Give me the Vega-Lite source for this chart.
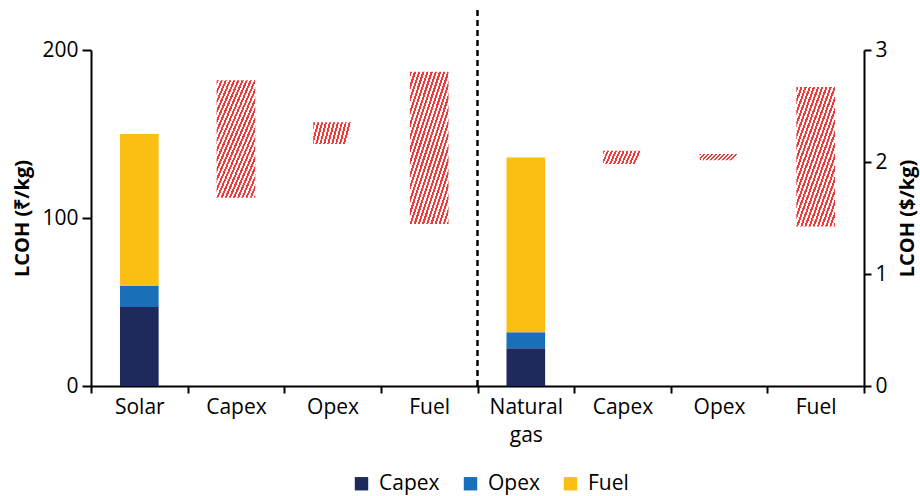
{
  "$schema": "https://vega.github.io/schema/vega-lite/v6.json",
  "width": 773,
  "height": 336,
  "autosize": "none",
  "padding": {"left": 91, "top": 50, "right": 56, "bottom": 110},
  "background": "white",
  "config": {
    "view": {"stroke": null},
    "font": "Open Sans",
    "axis": {
      "grid": false,
      "domainColor": "black",
      "domainWidth": 2,
      "tickColor": "black",
      "tickWidth": 2,
      "tickSize": 7,
      "labelColor": "black",
      "labelFont": "Open Sans",
      "labelFontSize": 21,
      "titleFont": "Open Sans",
      "titleFontSize": 20,
      "titleFontWeight": "bold",
      "titleColor": "black"
    },
    "legend": {"labelFont": "Open Sans", "labelFontSize": 21, "labelColor": "black"}
  },
  "datasets": {
    "stack": [
      {"cat": "Solar", "comp": "Capex", "ord": 1, "value": 47},
      {"cat": "Solar", "comp": "Opex", "ord": 2, "value": 12.5},
      {"cat": "Solar", "comp": "Fuel", "ord": 3, "value": 90.5},
      {"cat": "Natural gas", "comp": "Capex", "ord": 1, "value": 22.5},
      {"cat": "Natural gas", "comp": "Opex", "ord": 2, "value": 9.5},
      {"cat": "Natural gas", "comp": "Fuel", "ord": 3, "value": 104}
    ],
    "ranges": [
      {"cat": "Capex_1", "low": 112, "high": 182},
      {"cat": "Opex_1", "low": 144, "high": 157},
      {"cat": "Fuel_1", "low": 96.5, "high": 187},
      {"cat": "Capex_2", "low": 132.2, "high": 140.1},
      {"cat": "Opex_2", "low": 134.4, "high": 138.1},
      {"cat": "Fuel_2", "low": 95, "high": 178}
    ],
    "divider": [
      {"cat": "Natural gas", "bottom": 0, "top": 225}
    ],
    "usd": [
      {"usd": 0},
      {"usd": 3}
    ]
  },
  "layer": [
    {
      "encoding": {
        "x": {
          "field": "cat",
          "type": "nominal",
          "scale": {
            "domain": ["Solar", "Capex_1", "Opex_1", "Fuel_1", "Natural gas", "Capex_2", "Opex_2", "Fuel_2"],
            "paddingInner": 0,
            "paddingOuter": 0
          },
          "axis": {
            "title": null,
            "labelAngle": 0,
            "tickBand": "extent",
            "labelPadding": 3,
            "labelLineHeight": 28,
            "labelExpr": "datum.value == null ? '' : datum.value == 'Natural gas' ? ['Natural', 'gas'] : split(datum.value, '_')[0]"
          }
        }
      },
      "layer": [
        {
          "data": {"name": "stack"},
          "mark": {"type": "bar", "width": {"band": 0.4}},
          "encoding": {
            "y": {
              "field": "value",
              "type": "quantitative",
              "stack": "zero",
              "scale": {"domain": [0, 200], "nice": false},
              "axis": {"values": [0, 100, 200], "title": "LCOH (₹/kg)", "titlePadding": 9, "labelPadding": 4, "tickSize": 9}
            },
            "color": {
              "field": "comp",
              "type": "nominal",
              "scale": {"domain": ["Capex", "Opex", "Fuel"], "range": ["#1f2a5c", "#1a70b8", "#fbbf14"]},
              "legend": {
                "title": null,
                "orient": "none",
                "legendX": 260,
                "legendY": 423,
                "padding": 0,
                "direction": "horizontal",
                "symbolType": "square",
                "symbolSize": 180,
                "symbolStrokeWidth": 0,
                "columnPadding": 20,
                "labelOffset": 7
              }
            },
            "order": {"field": "ord", "type": "quantitative", "sort": "ascending"}
          }
        },
        {
          "data": {"name": "ranges"},
          "transform": [{"filter": "datum.high - datum.low > 50"}],
          "mark": {
            "type": "bar",
            "width": {"band": 0.4},
            "fill": {
              "gradient": "linear",
              "x1": 0, "y1": 0, "x2": 1, "y2": 1.3,
              "stops": [
                {"offset": 0.00, "color": "#f03a3a"}, {"offset": 0.02, "color": "#f03a3a"}, {"offset": 0.02, "color": "#ffffff"}, {"offset": 0.04, "color": "#ffffff"},
                {"offset": 0.04, "color": "#f03a3a"}, {"offset": 0.06, "color": "#f03a3a"}, {"offset": 0.06, "color": "#ffffff"}, {"offset": 0.08, "color": "#ffffff"},
                {"offset": 0.08, "color": "#f03a3a"}, {"offset": 0.10, "color": "#f03a3a"}, {"offset": 0.10, "color": "#ffffff"}, {"offset": 0.12, "color": "#ffffff"},
                {"offset": 0.12, "color": "#f03a3a"}, {"offset": 0.14, "color": "#f03a3a"}, {"offset": 0.14, "color": "#ffffff"}, {"offset": 0.16, "color": "#ffffff"},
                {"offset": 0.16, "color": "#f03a3a"}, {"offset": 0.18, "color": "#f03a3a"}, {"offset": 0.18, "color": "#ffffff"}, {"offset": 0.20, "color": "#ffffff"},
                {"offset": 0.20, "color": "#f03a3a"}, {"offset": 0.22, "color": "#f03a3a"}, {"offset": 0.22, "color": "#ffffff"}, {"offset": 0.24, "color": "#ffffff"},
                {"offset": 0.24, "color": "#f03a3a"}, {"offset": 0.26, "color": "#f03a3a"}, {"offset": 0.26, "color": "#ffffff"}, {"offset": 0.28, "color": "#ffffff"},
                {"offset": 0.28, "color": "#f03a3a"}, {"offset": 0.30, "color": "#f03a3a"}, {"offset": 0.30, "color": "#ffffff"}, {"offset": 0.32, "color": "#ffffff"},
                {"offset": 0.32, "color": "#f03a3a"}, {"offset": 0.34, "color": "#f03a3a"}, {"offset": 0.34, "color": "#ffffff"}, {"offset": 0.36, "color": "#ffffff"},
                {"offset": 0.36, "color": "#f03a3a"}, {"offset": 0.38, "color": "#f03a3a"}, {"offset": 0.38, "color": "#ffffff"}, {"offset": 0.40, "color": "#ffffff"},
                {"offset": 0.40, "color": "#f03a3a"}, {"offset": 0.42, "color": "#f03a3a"}, {"offset": 0.42, "color": "#ffffff"}, {"offset": 0.44, "color": "#ffffff"},
                {"offset": 0.44, "color": "#f03a3a"}, {"offset": 0.46, "color": "#f03a3a"}, {"offset": 0.46, "color": "#ffffff"}, {"offset": 0.48, "color": "#ffffff"},
                {"offset": 0.48, "color": "#f03a3a"}, {"offset": 0.50, "color": "#f03a3a"}, {"offset": 0.50, "color": "#ffffff"}, {"offset": 0.52, "color": "#ffffff"},
                {"offset": 0.52, "color": "#f03a3a"}, {"offset": 0.54, "color": "#f03a3a"}, {"offset": 0.54, "color": "#ffffff"}, {"offset": 0.56, "color": "#ffffff"},
                {"offset": 0.56, "color": "#f03a3a"}, {"offset": 0.58, "color": "#f03a3a"}, {"offset": 0.58, "color": "#ffffff"}, {"offset": 0.60, "color": "#ffffff"},
                {"offset": 0.60, "color": "#f03a3a"}, {"offset": 0.62, "color": "#f03a3a"}, {"offset": 0.62, "color": "#ffffff"}, {"offset": 0.64, "color": "#ffffff"},
                {"offset": 0.64, "color": "#f03a3a"}, {"offset": 0.66, "color": "#f03a3a"}, {"offset": 0.66, "color": "#ffffff"}, {"offset": 0.68, "color": "#ffffff"},
                {"offset": 0.68, "color": "#f03a3a"}, {"offset": 0.70, "color": "#f03a3a"}, {"offset": 0.70, "color": "#ffffff"}, {"offset": 0.72, "color": "#ffffff"},
                {"offset": 0.72, "color": "#f03a3a"}, {"offset": 0.74, "color": "#f03a3a"}, {"offset": 0.74, "color": "#ffffff"}, {"offset": 0.76, "color": "#ffffff"},
                {"offset": 0.76, "color": "#f03a3a"}, {"offset": 0.78, "color": "#f03a3a"}, {"offset": 0.78, "color": "#ffffff"}, {"offset": 0.80, "color": "#ffffff"},
                {"offset": 0.80, "color": "#f03a3a"}, {"offset": 0.82, "color": "#f03a3a"}, {"offset": 0.82, "color": "#ffffff"}, {"offset": 0.84, "color": "#ffffff"},
                {"offset": 0.84, "color": "#f03a3a"}, {"offset": 0.86, "color": "#f03a3a"}, {"offset": 0.86, "color": "#ffffff"}, {"offset": 0.88, "color": "#ffffff"},
                {"offset": 0.88, "color": "#f03a3a"}, {"offset": 0.90, "color": "#f03a3a"}
              ]
            }
          },
          "encoding": {
            "y": {"field": "low", "type": "quantitative"},
            "y2": {"field": "high"}
          }
        },
        {
          "data": {"name": "ranges"},
          "transform": [{"filter": "datum.high - datum.low <= 50"}],
          "mark": {
            "type": "bar",
            "width": {"band": 0.4},
            "fill": {
              "gradient": "linear",
              "x1": 0, "y1": 0, "x2": 1, "y2": 0.15,
              "stops": [
                {"offset": 0.00, "color": "#f03a3a"}, {"offset": 0.05, "color": "#f03a3a"}, {"offset": 0.05, "color": "#ffffff"}, {"offset": 0.10, "color": "#ffffff"},
                {"offset": 0.10, "color": "#f03a3a"}, {"offset": 0.15, "color": "#f03a3a"}, {"offset": 0.15, "color": "#ffffff"}, {"offset": 0.20, "color": "#ffffff"},
                {"offset": 0.20, "color": "#f03a3a"}, {"offset": 0.25, "color": "#f03a3a"}, {"offset": 0.25, "color": "#ffffff"}, {"offset": 0.30, "color": "#ffffff"},
                {"offset": 0.30, "color": "#f03a3a"}, {"offset": 0.35, "color": "#f03a3a"}, {"offset": 0.35, "color": "#ffffff"}, {"offset": 0.40, "color": "#ffffff"},
                {"offset": 0.40, "color": "#f03a3a"}, {"offset": 0.45, "color": "#f03a3a"}, {"offset": 0.45, "color": "#ffffff"}, {"offset": 0.50, "color": "#ffffff"},
                {"offset": 0.50, "color": "#f03a3a"}, {"offset": 0.55, "color": "#f03a3a"}, {"offset": 0.55, "color": "#ffffff"}, {"offset": 0.60, "color": "#ffffff"},
                {"offset": 0.60, "color": "#f03a3a"}, {"offset": 0.65, "color": "#f03a3a"}, {"offset": 0.65, "color": "#ffffff"}, {"offset": 0.70, "color": "#ffffff"},
                {"offset": 0.70, "color": "#f03a3a"}, {"offset": 0.75, "color": "#f03a3a"}, {"offset": 0.75, "color": "#ffffff"}, {"offset": 0.80, "color": "#ffffff"},
                {"offset": 0.80, "color": "#f03a3a"}, {"offset": 0.85, "color": "#f03a3a"}, {"offset": 0.85, "color": "#ffffff"}, {"offset": 0.90, "color": "#ffffff"},
                {"offset": 0.90, "color": "#f03a3a"}, {"offset": 0.95, "color": "#f03a3a"}, {"offset": 0.95, "color": "#ffffff"}, {"offset": 1.00, "color": "#ffffff"}
              ]
            }
          },
          "encoding": {
            "y": {"field": "low", "type": "quantitative"},
            "y2": {"field": "high"}
          }
        },
        {
          "data": {"name": "divider"},
          "mark": {"type": "rule", "color": "black", "strokeWidth": 2.5, "strokeDash": [6, 4]},
          "encoding": {
            "x": {"field": "cat", "type": "nominal", "bandPosition": 0},
            "y": {"field": "bottom", "type": "quantitative"},
            "y2": {"field": "top"}
          }
        }
      ]
    },
    {
      "data": {"name": "usd"},
      "mark": {"type": "point", "opacity": 0},
      "encoding": {
        "y": {
          "field": "usd",
          "type": "quantitative",
          "scale": {"domain": [0, 3], "nice": false},
          "axis": {"orient": "right", "values": [0, 1, 2, 3], "title": "LCOH ($/kg)", "titleAngle": 270, "titleBaseline": "top", "titlePadding": 10, "labelPadding": 4, "tickSize": 7}
        }
      }
    }
  ],
  "resolve": {"scale": {"y": "independent"}, "axis": {"y": "independent"}}
}
